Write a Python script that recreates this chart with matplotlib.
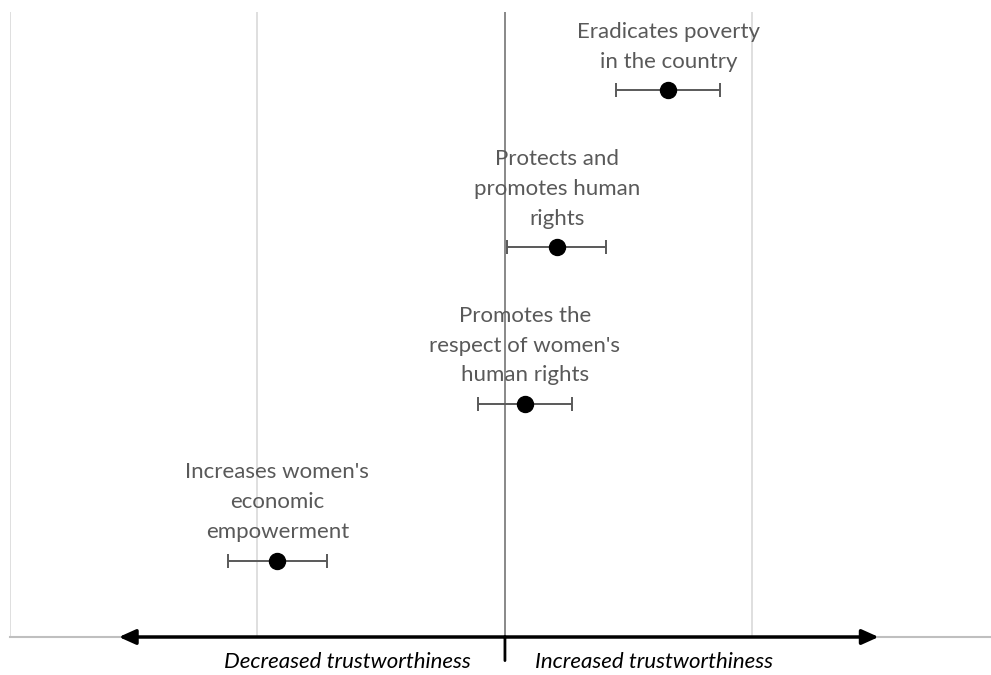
import matplotlib.pyplot as plt
import numpy as np

# effect estimates (gridline spacing = 1 unit, 0 = no change)
labels = [
    "Eradicates poverty\nin the country",
    "Protects and\npromotes human\nrights",
    "Promotes the\nrespect of women's\nhuman rights",
    "Increases women's\neconomic\nempowerment",
]
estimates = [0.66, 0.21, 0.08, -0.92]
errors = [0.21, 0.20, 0.19, 0.20]
positions = [4, 3, 2, 1]

plt.rcParams['font.family'] = ['Lato', 'DejaVu Sans']

fig = plt.figure(figsize=(9.91, 6.75), dpi=100)
ax = fig.add_axes([10 / 991, 38 / 675, 980 / 991, 625 / 675])

xlim = (-2.0, 1.96)
ax.set_xlim(*xlim)
ax.set_ylim(0.516, 4.5)

# vertical gridlines
for gx in [-2, -1, 1]:
    ax.axvline(gx, color='#d9d9d9', lw=1.2, zorder=0)
ax.axvline(0, color='#7f7f7f', lw=1.3, zorder=1)

for s in ['top', 'right', 'left']:
    ax.spines[s].set_visible(False)
ax.spines['bottom'].set_color('#bfbfbf')
ax.spines['bottom'].set_linewidth(1.5)
ax.set_xticks([])
ax.set_yticks([])

ax.errorbar(estimates, positions, xerr=errors, fmt='o', color='black',
            markersize=11.5, ecolor='#595959', elinewidth=1.4, capsize=5,
            capthick=1.4, zorder=3)

for x, y, lab in zip(estimates, positions, labels):
    ax.annotate(lab, (x, y), xytext=(0, 13.5), textcoords='offset points',
                ha='center', va='bottom', fontsize=16, color='#595959',
                linespacing=1.62)

# direction arrow along the bottom
y0 = ax.get_ylim()[0]
head = '-|>,head_length=1.0,head_width=0.45'
for tip in [-1.56, 1.51]:
    ax.annotate('', xy=(tip, y0), xytext=(0, y0),
                arrowprops=dict(arrowstyle=head, color='black', lw=2.5,
                                shrinkA=0, shrinkB=0),
                annotation_clip=False, zorder=4)
ax.annotate('', xy=(0, y0), xytext=(0, -17), textcoords='offset points',
            arrowprops=dict(arrowstyle='-', color='black', lw=2,
                            shrinkA=0, shrinkB=0),
            annotation_clip=False)

ax.text(-0.14, -0.04, 'Decreased trustworthiness', transform=ax.get_xaxis_transform(),
        ha='right', va='center', fontsize=16, style='italic', color='black')
ax.text(0.12, -0.04, 'Increased trustworthiness', transform=ax.get_xaxis_transform(),
        ha='left', va='center', fontsize=16, style='italic', color='black')

fig.savefig('out.png', dpi=100)
